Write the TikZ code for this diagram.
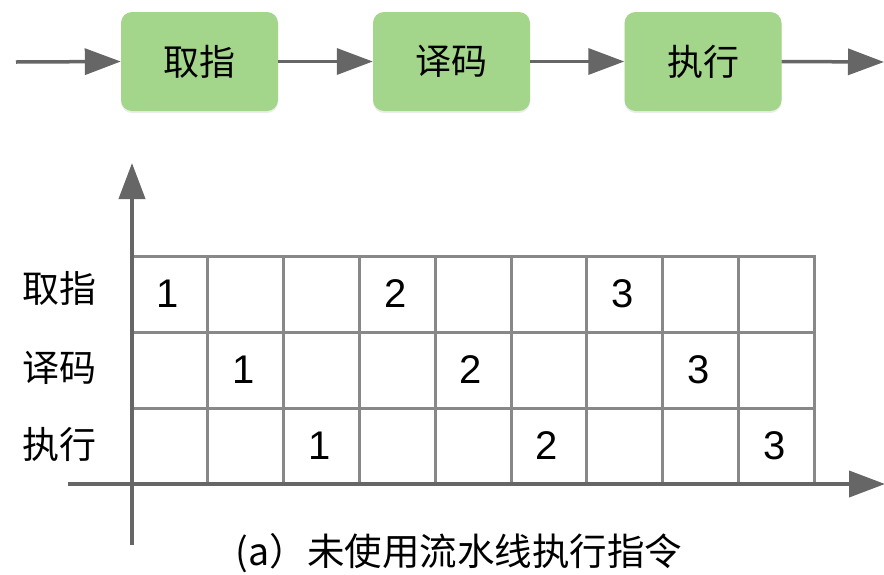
\documentclass[tikz,border=0pt]{standalone}
\usepackage{fontspec}
\setmainfont{Noto Sans CJK SC}
\newfontfamily\digitfont{Liberation Sans}
\usetikzlibrary{arrows.meta,shadows}
\definecolor{boxgreen}{HTML}{A3D58A}
\definecolor{axisgray}{HTML}{666666}
\definecolor{gridgray}{HTML}{888888}
\tikzset{
  stage/.style={draw=none, fill=boxgreen, rounded corners=11pt, minimum width=157pt, minimum height=99pt, font=\fontsize{36pt}{38pt}\selectfont, inner sep=0pt,
    drop shadow={shadow xshift=0pt, shadow yshift=-2pt, opacity=0.15}},
  flow/.style={draw=axisgray, line width=3.5pt, -{Triangle[length=36pt,width=26pt]}},
  axis/.style={draw=axisgray, line width=4pt, -{Triangle[length=36pt,width=26pt]}},
  cell/.style={draw=gridgray, line width=3pt},
  rowlab/.style={font=\fontsize{37pt}{39pt}\selectfont, inner sep=0pt},
  num/.style={font=\digitfont\fontsize{40pt}{42pt}\selectfont, inner sep=0pt},
}
\begin{document}
\begin{tikzpicture}[x=1pt,y=-1pt]
\useasboundingbox (0,0) rectangle (884,574);
% top pipeline
\node[stage] (f) at (199.5,61.5) {取指};
\node[stage] (d) at (451.5,61.5) {译码};
\node[stage] (e) at (703,61.5) {执行};
\coordinate (in) at (16,62);
\coordinate (out) at (884,62);
\draw[flow] (in) -- (f.west);
\draw[flow] (f.east) -- (d.west);
\draw[flow] (d.east) -- (e.west);
\draw[flow] (e.east) -- (out);
% grid
\foreach \i in {0,...,8}{
  \foreach \j in {0,1,2}{
    \draw[cell] ({132+\i*75.8},{256+\j*76}) rectangle ({132+(\i+1)*75.8},{256+(\j+1)*76});
  }
}
% axes
\coordinate (yb) at (132,545);
\coordinate (yt) at (132,163);
\coordinate (xl) at (68,484);
\coordinate (xr) at (885,484);
\draw[axis] (yb) -- (yt);
\draw[axis] (xl) -- (xr);
% row labels
\node[rowlab] (r1) at (60,288) {取指};
\node[rowlab] (r2) at (60,368) {译码};
\node[rowlab] (r3) at (60,444) {执行};
% numbers
\foreach \n/\c/\r in {1/0/0,2/3/0,3/6/0,1/1/1,2/4/1,3/7/1,1/2/2,2/5/2,3/8/2}{
  \node[num] (n\n\r) at ({132+(\c+0.5)*75.8-2},{256+(\r+0.5)*76}) {\n};
}
% caption
\node[font=\fontsize{37.5pt}{39pt}\selectfont, inner sep=0pt] (cap) at (459,553) {(a）未使用流水线执行指令};
\end{tikzpicture}
\end{document}
